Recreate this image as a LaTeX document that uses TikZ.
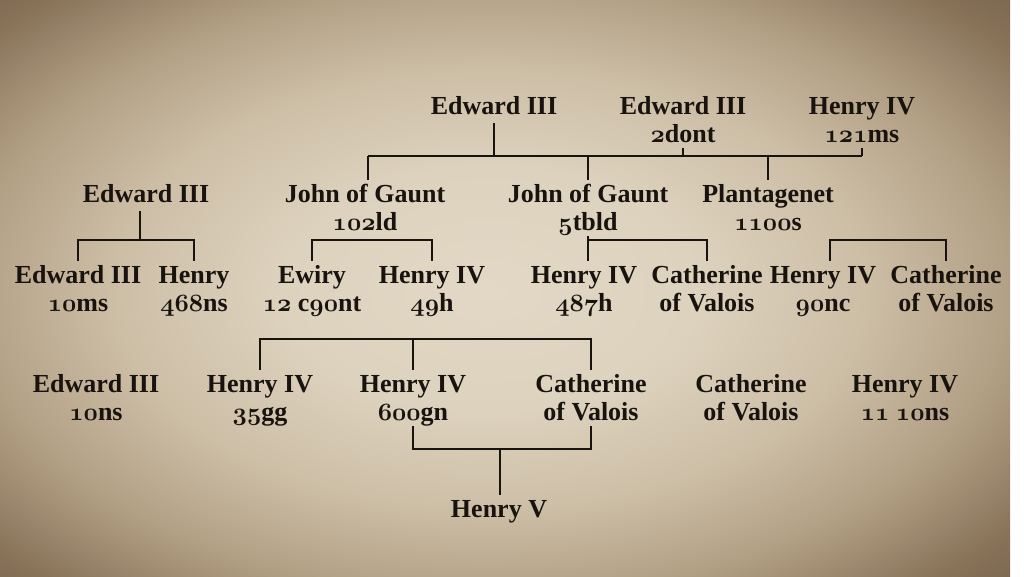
\documentclass[tikz,border=0pt]{standalone}
\usepackage{fontspec}
\setmainfont{Liberation Serif}
\definecolor{ink}{RGB}{24,19,14}
\definecolor{pa}{RGB}{226,216,197}
\definecolor{pb}{RGB}{221,210,190}
\definecolor{pc}{RGB}{205,190,166}
\definecolor{pd}{RGB}{178,160,133}
\definecolor{pe}{RGB}{135,114,88}
\definecolor{pf}{RGB}{60,48,36}
\pgfdeclareradialshading{vign}{\pgfpoint{0bp}{0bp}}{color(0bp)=(pa); color(10bp)=(pb); color(18bp)=(pc); color(25bp)=(pd); color(32bp)=(pe); color(50bp)=(pf)}
\newcommand\osn[1]{{\usefont{OML}{cmm}{b}{it}#1}}
\newcommand\twol[2]{\begin{tabular}[t]{@{}c@{}}#1\\#2\end{tabular}}
\tikzset{
  txt/.style={anchor=base, text=ink, inner xsep=2pt, inner ysep=4pt, text height=18pt, text depth=5pt, font=\bfseries\fontsize{26}{28}\selectfont},
  txt2/.style={txt, text depth=30pt},
  ln/.style={draw=ink, line width=2pt}
}
\begin{document}
\begin{tikzpicture}[x=1pt,y=-1pt]
\useasboundingbox (0,0) rectangle (1024,576);
\begin{scope}
\clip (0,0) rectangle (1024,576);
\shade[shading=vign] (-30,-15) rectangle (1010,595);
\end{scope}
% row 0
\node[txt] (A) at (494,114) {Edward III};
\node[txt2] (B) at (683,114) {\twol{Edward III}{\osn{2}dont}};
\node[txt2] (C) at (862,114) {\twol{Henry IV}{\osn{121}ms}};
% row 1
\node[txt] (D) at (146,202) {Edward III};
\node[txt2] (E) at (365,202) {\twol{John of Gaunt}{\osn{102}ld}};
\node[txt2] (F) at (588,202) {\twol{John of Gaunt}{\osn{5}tbld}};
\node[txt2] (G) at (768,202) {\twol{Plantagenet}{\osn{1100}s}};
% row 2
\node[txt2] (H) at (78,283) {\twol{Edward III}{\osn{10}ms}};
\node[txt2] (I) at (194,283) {\twol{Henry}{\osn{468}ns}};
\node[txt2] (J) at (312,283) {\twol{Ewiry}{\osn{12} c\osn{90}nt}};
\node[txt2] (K) at (432,283) {\twol{Henry IV}{\osn{49}h}};
\node[txt2] (L) at (584,283) {\twol{Henry IV}{\osn{487}h}};
\node[txt2] (M) at (707,283) {\twol{Catherine}{of Valois}};
\node[txt2] (N) at (823,283) {\twol{Henry IV}{\osn{90}nc}};
\node[txt2] (O) at (946,283) {\twol{Catherine}{of Valois}};
% row 3
\node[txt2] (P) at (96,392) {\twol{Edward III}{\osn{10}ns}};
\node[txt2] (Q) at (260,392) {\twol{Henry IV}{\osn{35}gg}};
\node[txt2] (R) at (413,392) {\twol{Henry IV}{\osn{600}gn}};
\node[txt2] (S) at (591,392) {\twol{Catherine}{of Valois}};
\node[txt2] (T) at (751,392) {\twol{Catherine}{of Valois}};
\node[txt2] (U) at (905,392) {\twol{Henry IV}{\osn{11} \osn{10}ns}};
% row 4
\node[txt] (V) at (499,517) {Henry V};
% junction coordinates
\coordinate (b1l) at (368,156);
\coordinate (b1r) at (862,156);
\coordinate (d) at (140,240);
\coordinate (n) at (830,240);
\coordinate (e) at (0,339);
\coordinate (f) at (500,449);
% bar 1
\draw[ln] (b1l) -- (b1r);
\draw[ln] (A.south) -- (A.south |- b1l);
\draw[ln] (B.south) -- (B.south |- b1l);
\draw[ln] (C.south) -- (C.south |- b1l);
\draw[ln] (b1l) -- (b1l |- E.north);
\draw[ln] (F.north |- b1l) -- (F.north);
\draw[ln] (G.north |- b1l) -- (G.north);
% bar 2
\draw[ln] (D.south -| d) -- (d);
\draw[ln] (H.north) -- (H.north |- d) -- (I.north |- d) -- (I.north);
\draw[ln] (J.north) -- (J.north |- d) -- (K.north |- d) -- (K.north);
\draw[ln] (F.south) -- (F.south |- d);
\draw[ln] (F.south |- L.north) -- (F.south |- d) -- (M.north |- d) -- (M.north);
\draw[ln] (n |- N.north) -- (n) -- (O.north |- d) -- (O.north);
% bar 3
\draw[ln] (Q.north) -- (Q.north |- e) -- (S.north |- e) -- (S.north);
\draw[ln] (R.north) -- (R.north |- e);
% bar 4
\draw[ln] (R.south) -- (R.south |- f) -- (S.south |- f) -- (S.south);
\draw[ln] (f) -- (f |- V.north);
\end{tikzpicture}
\end{document}
